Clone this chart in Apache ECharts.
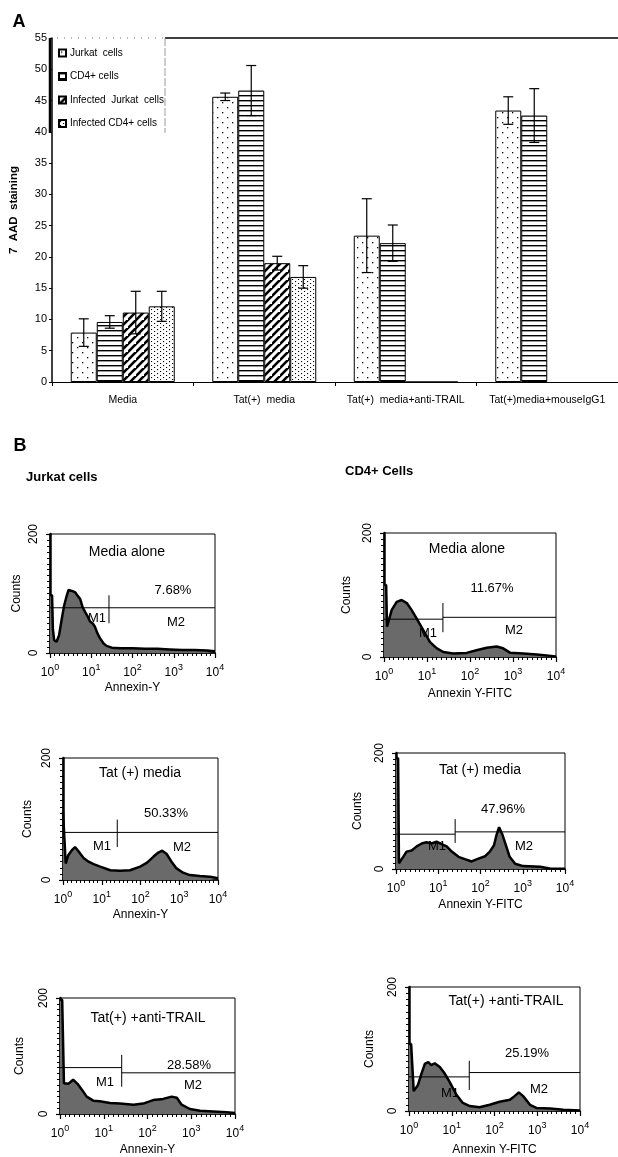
<!DOCTYPE html>
<html>
<head>
<meta charset="utf-8">
<script src="https://cdn.jsdelivr.net/npm/echarts@6/dist/echarts.min.js"></script>
<style>
html,body{margin:0;padding:0;background:#fff;}
#chart{width:618px;height:1157px;}
</style>
</head>
<body>
<div id="chart"></div>
<script>
// ---------------- Panel A data ----------------
const categories = ['Media', 'Tat(+)  media', 'Tat(+)  media+anti-TRAIL', 'Tat(+)media+mouseIgG1'];
const seriesNames = ['Jurkat  cells', 'CD4+ cells', 'Infected  Jurkat  cells', 'Infected CD4+ cells'];
const jurkatValues = [7.9, 45.6, 23.4, 43.4];
const cd4Values = [9.6, 46.6, 22.2, 42.6];
const infJurkatValues = [11.1, 19.0, 0, null];
const infCd4Values = [12.1, 16.8, 0, null];
const jurkatErr = [2.2, 0.6, 5.9, 2.2];
const cd4Err = [1.0, 4.0, 2.9, 4.3];
const infJurkatErr = [3.4, 1.1, null, null];
const infCd4Err = [2.4, 1.8, null, null];
const yTicksA = {min: 0, max: 55, step: 5};

// ---------------- Panel B data (x in decades of Annexin V intensity, y = counts) ----------------
const jurkatMediaX = [0, 0.05, 0.07, 0.1, 0.16, 0.22, 0.28, 0.34, 0.40, 0.45, 0.49, 0.55, 0.61, 0.67, 0.73, 0.79, 0.85, 0.91, 0.97, 1.03, 1.09, 1.15, 1.21, 1.3, 1.37, 1.5, 1.7, 2.0, 2.3, 2.6, 2.9, 3.2, 3.5, 3.8, 4.0];
const jurkatMediaY = [97, 97, 40, 22, 19, 30, 55, 79, 95, 106, 109, 104, 102, 96, 91, 77, 69, 62, 53, 50, 44, 33, 25, 16, 12, 9, 8, 8, 7, 7, 6, 5, 5, 4, 3];
const cd4MediaX = [0, 0.05, 0.07, 0.18, 0.295, 0.41, 0.53, 0.64, 0.76, 0.916, 1.07, 1.23, 1.38, 1.61, 1.92, 2.15, 2.39, 2.62, 2.77, 2.93, 3.24, 3.55, 4.0];
const cd4MediaY = [116, 116, 49, 76, 89, 92, 87, 76, 62, 43, 24, 14, 8, 5.5, 6.6, 11, 15, 17, 14, 7, 5.5, 4, 1];
const jurkatTatX = [0, 0.05, 0.07, 0.14, 0.23, 0.31, 0.40, 0.53, 0.66, 0.79, 0.96, 1.22, 1.47, 1.73, 1.99, 2.16, 2.33, 2.46, 2.56, 2.67, 2.8, 2.93, 3.1, 3.27, 3.53, 3.79, 4.0];
const jurkatTatY = [112, 112, 27, 41, 49, 54, 47, 36, 30, 26, 22, 16, 15, 16, 22, 28, 38, 45, 48, 43, 30, 19, 12, 8, 6.6, 5.5, 3];
const cd4TatX = [0, 0.05, 0.07, 0.17, 0.25, 0.37, 0.49, 0.61, 0.72, 0.84, 0.96, 1.08, 1.2, 1.32, 1.48, 1.63, 1.79, 1.95, 2.11, 2.22, 2.32, 2.38, 2.44, 2.52, 2.61, 2.69, 2.82, 3.01, 3.41, 3.64, 4.0];
const cd4TatY = [191, 191, 10, 21, 30, 32, 39, 44, 46, 44, 47, 43, 39, 30, 21, 17, 13, 18, 22, 30, 41, 59, 72, 59, 39, 21, 9, 5, 4, 1, 0.5];
const jurkatTrailX = [0, 0.05, 0.09, 0.19, 0.30, 0.40, 0.5, 0.61, 0.76, 0.91, 1.14, 1.37, 1.68, 1.9, 2.13, 2.36, 2.55, 2.67, 2.78, 2.97, 3.2, 3.5, 3.81, 4.0];
const jurkatTrailY = [197, 197, 53, 52, 59, 52, 42, 30, 23, 22, 19, 18, 16, 18, 24, 26, 30, 28, 16, 8.6, 5.7, 4.5, 3, 1.7];
const cd4TrailX = [0, 0.05, 0.11, 0.21, 0.29, 0.37, 0.45, 0.52, 0.6, 0.72, 0.84, 0.95, 1.11, 1.26, 1.42, 1.65, 1.89, 2.12, 2.36, 2.47, 2.57, 2.67, 2.83, 2.98, 3.3, 3.61, 4.0];
const cd4TrailY = [108, 108, 32, 42, 60, 76, 79, 74, 77, 71, 60, 47, 26, 13, 8, 6, 10, 15, 18, 24, 30, 24, 10, 5, 4, 2, 1];

// gate markers: [M1 level, M2 level, split (decades), tick low, tick high]
const gateJurkatMedia = [76, 76, 1.43, 50, 97];
const gateCd4Media = [61, 64, 1.37, 40, 87];
const gateJurkatTat = [78, 78, 1.40, 54, 99];
const gateCd4Tat = [60, 64, 1.40, 45, 86];
const gateJurkatTrail = [80, 71, 1.41, 47, 102];
const gateCd4Trail = [55, 62, 1.41, 34, 81];

const panelTitles = ['Media alone', 'Media alone', 'Tat (+) media', 'Tat (+) media', 'Tat(+) +anti-TRAIL', 'Tat(+) +anti-TRAIL'];
const panelPercents = ['7.68%', '11.67%', '50.33%', '47.96%', '28.58%', '25.19%'];
const panelXNames = ['Annexin-Y', 'Annexin Y-FITC', 'Annexin-Y', 'Annexin Y-FITC', 'Annexin-Y', 'Annexin Y-FITC'];
const xTickExponents = [0, 1, 2, 3, 4];

// ---------------- patterns ----------------
function makePattern(w, h, draw) {
  const c = document.createElement('canvas');
  c.width = w; c.height = h;
  const ctx = c.getContext('2d');
  ctx.fillStyle = '#fff'; ctx.fillRect(0, 0, w, h);
  ctx.fillStyle = '#000'; ctx.strokeStyle = '#000';
  draw(ctx, w, h);
  return {image: c, repeat: 'repeat'};
}
const patSparseDots = makePattern(10, 10, (ctx) => { ctx.fillRect(2, 2, 1.3, 1.3); ctx.fillRect(7, 7, 1.3, 1.3); });
const patHStripes = makePattern(5, 5, (ctx, w) => { ctx.fillRect(0, 0, w, 1.4); });
const patDiag = makePattern(8, 8, (ctx, w, h) => {
  ctx.lineWidth = 2.6; ctx.lineCap = 'square';
  ctx.beginPath();
  ctx.moveTo(-2, h + 2); ctx.lineTo(w + 2, -2);
  ctx.moveTo(-2 - w, h + 2); ctx.lineTo(2, -2);
  ctx.moveTo(w - 2, 2 * h + 2); ctx.lineTo(2 * w + 2, h - 2);
  ctx.stroke();
});
const patDenseDots = makePattern(6, 4, (ctx) => { ctx.fillRect(1, 1, 1.1, 1.1); ctx.fillRect(4, 3, 1.1, 1.1); });
const patterns = [patSparseDots, patHStripes, patDiag, patDenseDots];

const narrowFont = "'Liberation Sans Narrow', 'Liberation Sans', Arial, sans-serif";
const sansFont = "'Liberation Sans', Arial, Helvetica, sans-serif";

// ---------------- build option ----------------
const BAR_W = 26;
const allValues = [jurkatValues, cd4Values, infJurkatValues, infCd4Values];
const allErr = [jurkatErr, cd4Err, infJurkatErr, infCd4Err];

const series = [];
allValues.forEach((vals, si) => {
  series.push({
    type: 'bar', name: seriesNames[si], xAxisIndex: 0, yAxisIndex: 0,
    data: vals, barWidth: BAR_W, barGap: '0%',
    itemStyle: {color: patterns[si], borderColor: '#000', borderWidth: 1},
    emphasis: {disabled: true}, z: 2
  });
});
const errItems = [];
allErr.forEach((errs, si) => {
  errs.forEach((e, ci) => {
    if (e == null || allValues[si][ci] == null) return;
    const v = allValues[si][ci];
    errItems.push([ci, v - e, v + e, si]);
  });
});
series.push({
  type: 'custom', xAxisIndex: 0, yAxisIndex: 0, z: 5, silent: true,
  data: errItems, encode: {x: 0, y: [1, 2]},
  renderItem: function (params, api) {
    const cat = api.value(0), lo = api.value(1), hi = api.value(2), si = api.value(3);
    const pHi = api.coord([cat, hi]);
    const pLo = api.coord([cat, lo]);
    const x = pHi[0] + (si - 1.5) * BAR_W;
    const cap = 5;
    const st = {stroke: '#000', lineWidth: 1.2};
    return {type: 'group', children: [
      {type: 'line', shape: {x1: x, y1: pHi[1], x2: x, y2: pLo[1]}, style: st},
      {type: 'line', shape: {x1: x - cap, y1: pHi[1], x2: x + cap, y2: pHi[1]}, style: st},
      {type: 'line', shape: {x1: x - cap, y1: pLo[1], x2: x + cap, y2: pLo[1]}, style: st}
    ]};
  }
});

// histogram panels
const panelGrids = [
  {left: 50, top: 534, width: 165, height: 119},
  {left: 384, top: 533, width: 172, height: 124},
  {left: 63, top: 758, width: 155, height: 122},
  {left: 396, top: 753, width: 169, height: 116},
  {left: 60, top: 998, width: 175, height: 116},
  {left: 409, top: 987, width: 171, height: 126}
];
const histXs = [jurkatMediaX, cd4MediaX, jurkatTatX, cd4TatX, jurkatTrailX, cd4TrailX];
const histYs = [jurkatMediaY, cd4MediaY, jurkatTatY, cd4TatY, jurkatTrailY, cd4TrailY];
const gates = [gateJurkatMedia, gateCd4Media, gateJurkatTat, gateCd4Tat, gateJurkatTrail, gateCd4Trail];
const xNameGaps = [29, 31, 29, 30, 30, 33];
const yNameGaps = [27, 31, 29, 32, 34, 33];

const grids = [{left: 50, top: 38, width: 572, height: 344}];
const xAxes = [{
  type: 'category', gridIndex: 0, data: categories,
  axisLine: {lineStyle: {color: '#000', width: 1}},
  axisTick: {show: true, length: 4, lineStyle: {color: '#000'}},
  axisLabel: {fontSize: 10.5, color: '#000', margin: 13, fontFamily: narrowFont, interval: 0}
}];
const yAxes = [{
  type: 'value', gridIndex: 0, min: yTicksA.min, max: yTicksA.max, interval: yTicksA.step,
  axisLine: {show: true, lineStyle: {color: '#000', width: 1.5}},
  axisTick: {show: true, length: 3, lineStyle: {color: '#000'}},
  splitLine: {show: false},
  axisLabel: {fontSize: 11, color: '#000', margin: 5, fontFamily: narrowFont},
  name: '7  AAD  staining', nameLocation: 'middle', nameGap: 32, nameRotate: 90,
  nameTextStyle: {fontSize: 11.5, fontWeight: 'bold', color: '#000', fontFamily: sansFont}
}];

const graphics = [];

panelGrids.forEach((g, i) => {
  const gi = i + 1;
  grids.push(Object.assign({show: true, borderColor: '#000', borderWidth: 1, backgroundColor: 'rgba(0,0,0,0)'}, g));
  xAxes.push({
    type: 'value', gridIndex: gi, min: 0, max: 4, interval: 1,
    axisLine: {show: true, onZero: false, lineStyle: {color: '#000', width: 1.5}},
    axisTick: {show: true, length: 5, lineStyle: {color: '#000', width: 1.2}},
    minorTick: {show: true, splitNumber: 9, length: 3, lineStyle: {color: '#000', width: 1}},
    splitLine: {show: false},
    axisLabel: {
      color: '#000', margin: 10,
      formatter: (v) => '{b|10}{s|' + xTickExponents[Math.round(v)] + '}',
      rich: {
        b: {fontSize: 12, fontFamily: sansFont, color: '#000', lineHeight: 16, verticalAlign: 'bottom'},
        s: {fontSize: 9, fontFamily: sansFont, color: '#000', lineHeight: 9, verticalAlign: 'top'}
      }
    },
    name: panelXNames[i], nameLocation: 'middle', nameGap: xNameGaps[i],
    nameTextStyle: {fontSize: 12, color: '#000', fontFamily: sansFont}
  });
  yAxes.push({
    type: 'value', gridIndex: gi, min: 0, max: 200, interval: 200,
    axisLine: {show: true, onZero: false, lineStyle: {color: '#000', width: 2.5}},
    axisTick: {show: true, length: 4, lineStyle: {color: '#000', width: 1.2}},
    minorTick: {show: true, splitNumber: 20, length: 3, lineStyle: {color: '#000', width: 1}},
    splitLine: {show: false},
    axisLabel: {rotate: 90, fontSize: 12, color: '#000', margin: 10, fontFamily: sansFont},
    name: 'Counts', nameLocation: 'middle', nameGap: yNameGaps[i], nameRotate: 90,
    nameTextStyle: {fontSize: 12, color: '#000', fontFamily: sansFont}
  });
  const pts = histXs[i].map((x, k) => [x, histYs[i][k]]);
  series.push({
    type: 'line', xAxisIndex: gi, yAxisIndex: gi, data: pts, symbol: 'none', silent: true,
    lineStyle: {color: '#000', width: 2.5}, areaStyle: {color: '#6a6a6a', opacity: 1}, z: 3
  });
  const gt = gates[i];
  const gateSegs = [
    [[0, gt[0]], [gt[2], gt[0]]],
    [[gt[2], gt[1]], [4, gt[1]]],
    [[gt[2], gt[3]], [gt[2], gt[4]]]
  ];
  gateSegs.forEach((seg) => {
    series.push({
      type: 'line', xAxisIndex: gi, yAxisIndex: gi, data: seg, symbol: 'none', silent: true,
      lineStyle: {color: '#000', width: 1}, z: 4
    });
  });
});

// annotation texts (center positions)
const textPos = [
  {t: [127, 552], p: [173, 590], m1: [97, 618], m2: [176, 622]},
  {t: [467, 549], p: [492, 588], m1: [428, 633], m2: [514, 630]},
  {t: [140, 773], p: [166, 813], m1: [102, 846], m2: [182, 847]},
  {t: [480, 770], p: [503, 809], m1: [437, 846], m2: [524, 846]},
  {t: [148, 1018], p: [189, 1065], m1: [105, 1082], m2: [193, 1085]},
  {t: [506, 1001], p: [527, 1053], m1: [450, 1093], m2: [539, 1089]}
];
function txt(x, y, s, size, weight, align, font) {
  return {type: 'text', x: x, y: y, z: 100, silent: true,
    style: {text: s, fontSize: size, fontWeight: weight || 'normal', fill: '#000',
      align: align || 'center', verticalAlign: 'middle', fontFamily: font || sansFont}};
}
textPos.forEach((tp, i) => {
  graphics.push(txt(tp.t[0], tp.t[1], panelTitles[i], 14));
  graphics.push(txt(tp.p[0], tp.p[1], panelPercents[i], 13));
  graphics.push(txt(tp.m1[0], tp.m1[1], 'M1', 13));
  graphics.push(txt(tp.m2[0], tp.m2[1], 'M2', 13));
});
graphics.push(txt(19, 22, 'A', 18, 'bold', 'center', sansFont));
graphics.push(txt(20, 446, 'B', 18, 'bold', 'center', sansFont));
graphics.push(txt(26, 477, 'Jurkat cells', 13, 'bold', 'left', sansFont));
graphics.push(txt(345, 471, 'CD4+ Cells', 13, 'bold', 'left', sansFont));
// panel A frame: top line and legend box borders
graphics.push({type: 'line', z: 50, silent: true, shape: {x1: 165, y1: 38, x2: 618, y2: 38}, style: {stroke: '#000', lineWidth: 1.5}});
graphics.push({type: 'line', z: 50, silent: true, shape: {x1: 50, y1: 38, x2: 165, y2: 38}, style: {stroke: '#777', lineWidth: 1, lineDash: [1, 6]}});
graphics.push({type: 'line', z: 50, silent: true, shape: {x1: 165, y1: 38, x2: 165, y2: 133}, style: {stroke: '#999', lineWidth: 1, lineDash: [8, 2]}});
graphics.push({type: 'line', z: 50, silent: true, shape: {x1: 50, y1: 38, x2: 50, y2: 133}, style: {stroke: '#000', lineWidth: 2.5}});

const option = {
  backgroundColor: '#fff',
  animation: false,
  textStyle: {fontFamily: sansFont},
  grid: grids,
  xAxis: xAxes,
  yAxis: yAxes,
  legend: {
    data: seriesNames, orient: 'vertical', left: 53, top: 43,
    itemWidth: 7, itemHeight: 7, itemGap: 13.5, selectedMode: false,
    textStyle: {fontSize: 10, color: '#000', fontFamily: narrowFont, padding: [0, 0, 0, -1]},
    icon: 'rect'
  },
  graphic: graphics,
  series: series
};
const chart = echarts.init(document.getElementById('chart'), null, {renderer: 'canvas'});
chart.setOption(option);
</script>
</body>
</html>
